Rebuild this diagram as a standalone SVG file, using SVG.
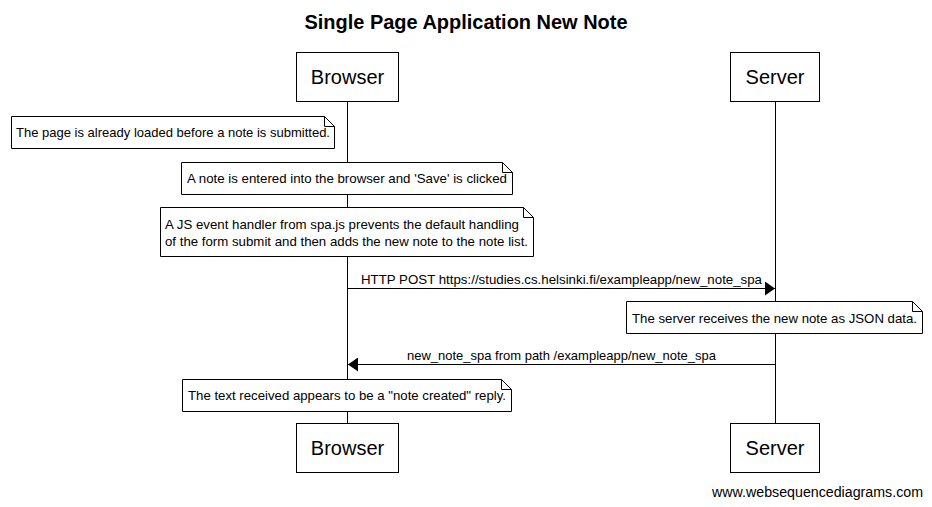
<svg xmlns="http://www.w3.org/2000/svg" width="932" height="507" viewBox="0 0 932 507">
  <style>
    .bg { fill: #ffffff; }
    .box { fill: #ffffff; stroke: #000000; stroke-width: 1; }
    .life { stroke: #000000; stroke-width: 1; fill: none; }
    .msg { stroke: #000000; stroke-width: 1; fill: none; }
    .title { font-family: "Liberation Sans", Arial, sans-serif; font-size: 20px; font-weight: bold; fill: #000; text-anchor: middle; }
    .actor { font-family: "Liberation Sans", Arial, sans-serif; font-size: 20px; fill: #000; text-anchor: middle; }
    .note { font-family: "Liberation Sans", Arial, sans-serif; font-size: 13px; fill: #000; }
    .lbl { font-family: "Liberation Sans", Arial, sans-serif; font-size: 13px; fill: #000; text-anchor: middle; }
    .foot { font-family: "Liberation Sans", Arial, sans-serif; font-size: 14px; fill: #000; text-anchor: end; }
  </style>
  <defs>
    <marker id="head" markerWidth="11" markerHeight="14" refX="10" refY="7" orient="auto" markerUnits="userSpaceOnUse">
      <path d="M0,0 L10,7 L0,14 Z" fill="#000"/>
    </marker>
  </defs>
  <rect class="bg" x="0" y="0" width="932" height="507"/>
  <text class="title" x="466" y="29" textLength="323" lengthAdjust="spacingAndGlyphs">Single Page Application New Note</text>

  <!-- lifelines -->
  <g id="lifelines">
    <line class="life" x1="347.5" y1="102" x2="347.5" y2="423"/>
    <line class="life" x1="775.5" y1="102" x2="775.5" y2="423"/>
  </g>

  <!-- participants -->
  <g id="browser-top">
    <rect class="box" x="296.5" y="52.5" width="102" height="49"/>
    <text class="actor" x="347.5" y="84">Browser</text>
  </g>
  <g id="server-top">
    <rect class="box" x="730.5" y="52.5" width="89" height="49"/>
    <text class="actor" x="775" y="84">Server</text>
  </g>
  <g id="browser-bottom">
    <rect class="box" x="296.5" y="423.5" width="102" height="49"/>
    <text class="actor" x="347.5" y="455">Browser</text>
  </g>
  <g id="server-bottom">
    <rect class="box" x="730.5" y="423.5" width="89" height="49"/>
    <text class="actor" x="775" y="455">Server</text>
  </g>

  <!-- notes -->
  <g id="note-loaded">
    <path class="box" d="M11.5,116.5 H324.5 L334.5,126.5 V148.5 H11.5 Z"/>
    <path class="life" d="M324.5,116.5 V126.5 H334.5"/>
    <text class="note" x="16" y="137" textLength="314" lengthAdjust="spacingAndGlyphs">The page is already loaded before a note is submitted.</text>
  </g>
  <g id="note-save">
    <path class="box" d="M181.5,162.5 H502.5 L512.5,172.5 V194.5 H181.5 Z"/>
    <path class="life" d="M502.5,162.5 V172.5 H512.5"/>
    <text class="note" x="187" y="183" textLength="320" lengthAdjust="spacingAndGlyphs">A note is entered into the browser and 'Save' is clicked</text>
  </g>
  <g id="note-handler">
    <path class="box" d="M160.5,207.5 H523.5 L533.5,217.5 V256.5 H160.5 Z"/>
    <path class="life" d="M523.5,207.5 V217.5 H533.5"/>
    <text class="note" x="165" y="229" textLength="354" lengthAdjust="spacingAndGlyphs">A JS event handler from spa.js prevents the default handling</text>
    <text class="note" x="165" y="246" textLength="363" lengthAdjust="spacingAndGlyphs">of the form submit and then adds the new note to the note list.</text>
  </g>
  <g id="note-json">
    <path class="box" d="M626.5,301.5 H912.5 L922.5,311.5 V333.5 H626.5 Z"/>
    <path class="life" d="M912.5,301.5 V311.5 H922.5"/>
    <text class="note" x="632" y="323" textLength="285" lengthAdjust="spacingAndGlyphs">The server receives the new note as JSON data.</text>
  </g>
  <g id="note-reply">
    <path class="box" d="M182.5,379.5 H501.5 L511.5,389.5 V411.5 H182.5 Z"/>
    <path class="life" d="M501.5,379.5 V389.5 H511.5"/>
    <text class="note" x="188" y="400" textLength="318" lengthAdjust="spacingAndGlyphs">The text received appears to be a "note created" reply.</text>
  </g>

  <!-- connectors -->
  <g id="connectors">
    <line class="msg" x1="347.5" y1="288.5" x2="775" y2="288.5" marker-end="url(#head)"/>
    <text class="lbl" x="561.5" y="284" textLength="401" lengthAdjust="spacingAndGlyphs">HTTP POST https://studies.cs.helsinki.fi/exampleapp/new_note_spa</text>
    <line class="msg" x1="775.5" y1="364.5" x2="348" y2="364.5" marker-end="url(#head)"/>
    <text class="lbl" x="561.5" y="360" textLength="309" lengthAdjust="spacingAndGlyphs">new_note_spa from path /exampleapp/new_note_spa</text>
  </g>

  <text class="foot" x="923" y="497" textLength="211" lengthAdjust="spacingAndGlyphs">www.websequencediagrams.com</text>
</svg>
